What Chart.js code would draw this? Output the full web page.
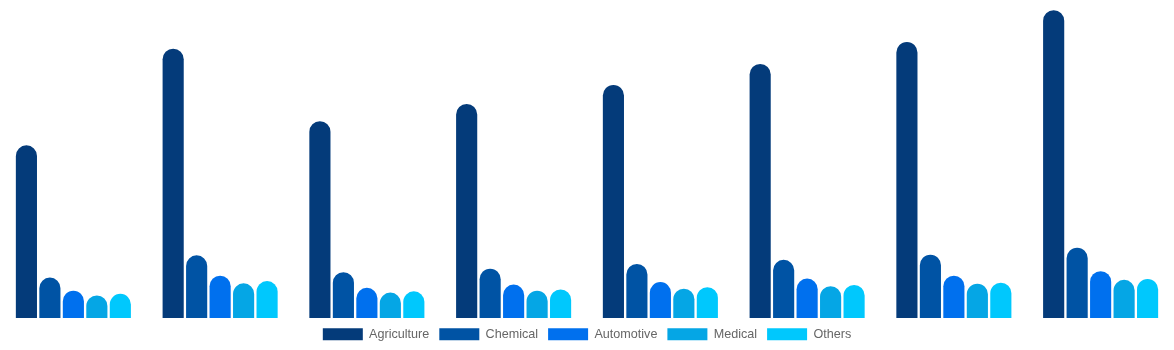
<!DOCTYPE html>
<html>
<head>
<meta charset="utf-8">
<script src="https://cdn.jsdelivr.net/npm/chart.js@4/dist/chart.umd.min.js"></script>
<style>
  html, body { margin: 0; padding: 0; background: #fff; }
  #wrap { width: 1174px; height: 350px; position: relative; }
</style>
</head>
<body>
<div id="wrap"><canvas id="salesChart"></canvas></div>
<script>
// DATA
const years = ["2017", "2018", "2019", "2020", "2021", "2022", "2023", "2024"];
const agriculture = [543, 847, 619, 673, 733, 799, 868, 968];
const chemical    = [127, 197, 144, 155, 170, 183, 199, 221];
const automotive  = [86, 133, 95, 105, 113, 124, 133, 147];
const medical     = [71, 109, 80, 86, 92, 100, 108, 120];
const others      = [76, 116, 84, 90, 97, 104, 111, 123];
const yMax = 1000;

function series(label, data, color) {
    return {
        label: label,
        data: data,
        backgroundColor: color,
        borderRadius: 12,
        borderSkipped: 'bottom'
    };
}

// CHART
new Chart(document.getElementById('salesChart'), {
    type: 'bar',
    data: {
        labels: years,
        datasets: [
            series('Agriculture', agriculture, '#043b7a'),
            series('Chemical', chemical, '#0053a4'),
            series('Automotive', automotive, '#0070ee'),
            series('Medical', medical, '#05a6e5'),
            series('Others', others, '#00c8fd')
        ]
    },
    options: {
        responsive: true,
        maintainAspectRatio: false,
        animation: false,
        layout: { padding: { top: 0, left: 0, right: 0, bottom: -0.6 } },
        plugins: {
            legend: {
                position: 'bottom',
                labels: {
                    boxWidth: 40,
                    boxHeight: 12,
                    color: '#666',
                    font: { family: 'Arial, "Liberation Sans", Helvetica, sans-serif', size: 12.6 }
                }
            }
        },
        scales: {
            x: { display: false },
            y: { display: false, beginAtZero: true, min: 0, max: yMax }
        }
    }
});
</script>
</body>
</html>
